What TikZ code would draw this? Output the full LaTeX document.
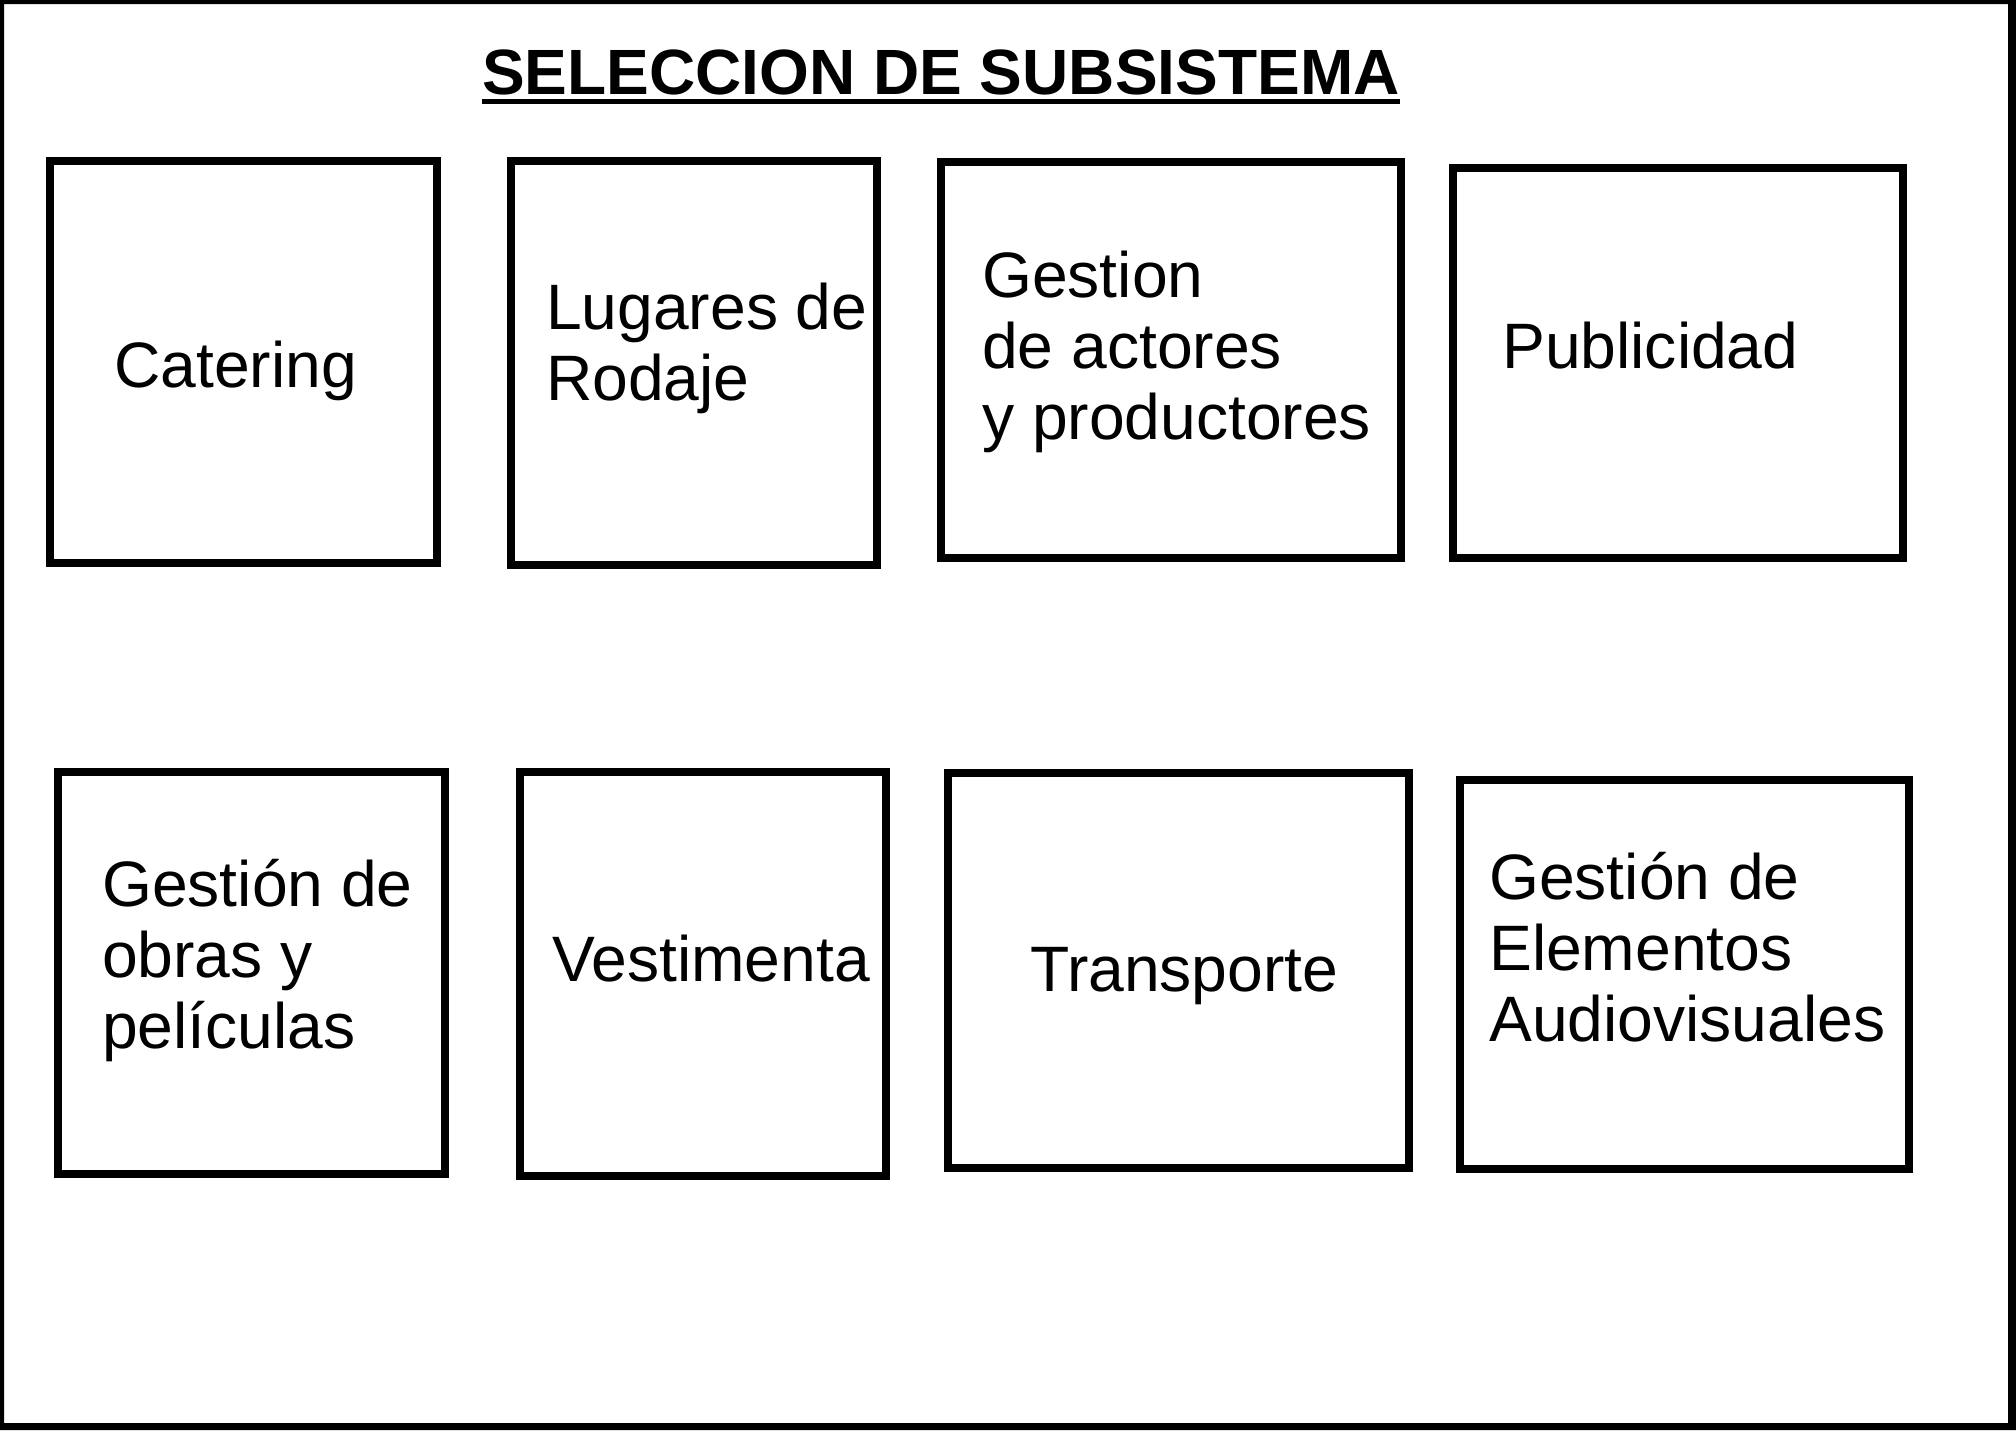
\documentclass[tikz,border=0pt]{standalone}
\usepackage{fontspec}
\setmainfont{Liberation Sans}
\newcommand\boxlines[1]{\vtop{\baselineskip=71pt #1}}
\begin{document}
\begin{tikzpicture}[x=1pt,y=-1pt,
  sbox/.style={draw=black, line width=8pt, rectangle, inner sep=0pt},
  btext/.style={anchor=base west, inner sep=0pt, font=\fontsize{64.2}{71}\selectfont},
  ttext/.style={anchor=base west, inner sep=0pt, font=\fontsize{64}{70}\selectfont\bfseries}]
\useasboundingbox (0,0) rectangle (2016,1430);
\fill[white] (0,0) rectangle (2016,1430);
\fill[black, even odd rule] (0,0) rectangle (2016,1430) (4,4) rectangle (2008,1423);
% title
\node[ttext] (title) at (482,94) {SELECCION DE SUBSISTEMA};
\draw[line width=5pt] ([yshift=-7.5pt]title.base west) -- ([yshift=-7.5pt]title.base east);
% top row boxes
\node[sbox, minimum width=387pt, minimum height=402pt] (b1) at (243.5,362) {};
\node[sbox, minimum width=366pt, minimum height=404pt] (b2) at (694,363) {};
\node[sbox, minimum width=460pt, minimum height=396pt] (b3) at (1171.3,359.6) {};
\node[sbox, minimum width=450pt, minimum height=390pt] (b4) at (1677.6,362.6) {};
% bottom row boxes
\node[sbox, minimum width=387pt, minimum height=402pt] (b5) at (251.1,972.6) {};
\node[sbox, minimum width=366pt, minimum height=404pt] (b6) at (702.6,973.6) {};
\node[sbox, minimum width=461pt, minimum height=395pt] (b7) at (1178.1,970.6) {};
\node[sbox, minimum width=449pt, minimum height=389pt] (b8) at (1684.1,974.1) {};
% texts
\node[btext] (t1) at (114,387) {Catering};
\node[btext] (t2) at (546,329) {\boxlines{\hbox{Lugares de}\hbox{Rodaje}}};
\node[btext] (t3) at (982,297) {\boxlines{\hbox{Gestion}\hbox{de actores}\hbox{y productores}}};
\node[btext] (t4) at (1502,368) {Publicidad};
\node[btext] (t5) at (102,906) {\boxlines{\hbox{Gestión de}\hbox{obras y}\hbox{películas}}};
\node[btext] (t6) at (552,981) {Vestimenta};
\node[btext] (t7) at (1030,991) {Transporte};
\node[btext] (t8) at (1489,899) {\boxlines{\hbox{Gestión de}\hbox{Elementos}\hbox{Audiovisuales}}};
\end{tikzpicture}
\end{document}
